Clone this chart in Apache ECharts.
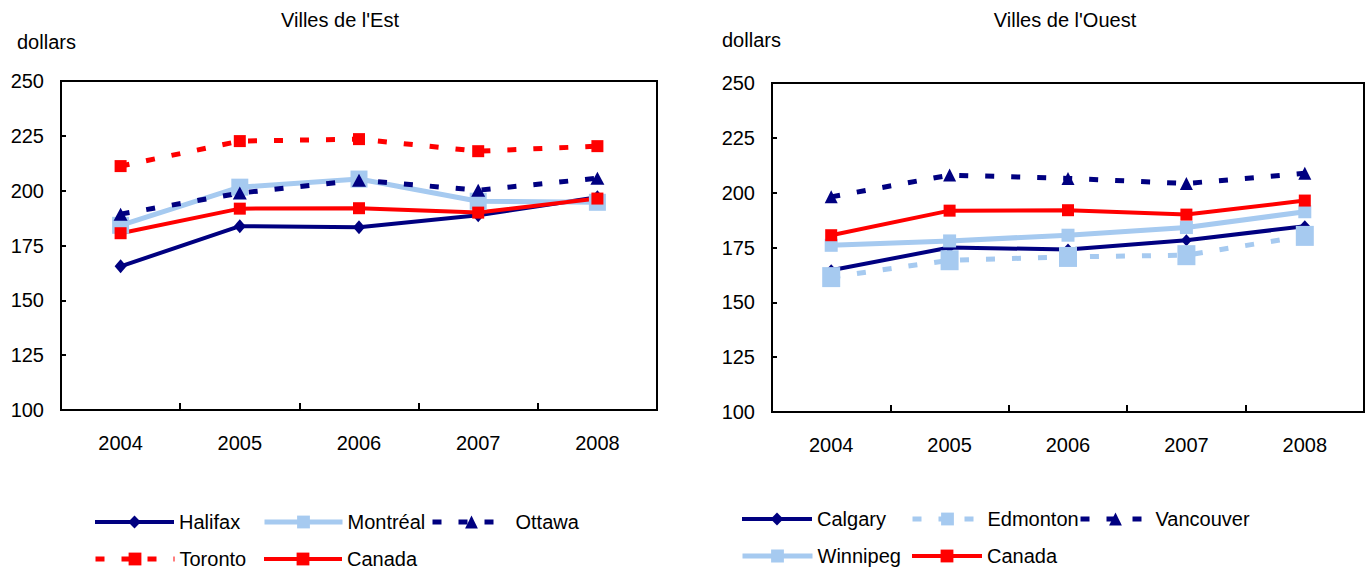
<!DOCTYPE html>
<html>
<head>
<meta charset="utf-8">
<script src="https://cdn.jsdelivr.net/npm/echarts@6/dist/echarts.min.js"></script>
<style>
html,body{margin:0;padding:0;background:#fff;}
#c{width:1370px;height:569px;}
</style>
</head>
<body>
<div id="c"></div>
<script>
// ---- Data ----
const years = ['2004', '2005', '2006', '2007', '2008'];
const yTicks = [100, 125, 150, 175, 200, 225, 250];
// Villes de l'Est
const halifax  = [165.5, 183.8, 183.3, 188.8, 197.0];
const montreal = [184.2, 201.6, 205.3, 195.2, 194.7];
const ottawa   = [189.3, 198.9, 204.8, 200.2, 205.7];
const toronto  = [211.2, 222.6, 223.5, 218.0, 220.3];
const canada   = [180.6, 191.8, 192.0, 190.0, 196.4];
// Villes de l'Ouest
const calgary   = [164.6, 175.0, 174.1, 178.3, 184.7];
const edmonton  = [161.5, 169.2, 170.7, 171.5, 180.3];
const vancouver = [198.1, 208.0, 206.5, 204.2, 208.8];
const winnipeg  = [176.0, 178.0, 180.6, 184.1, 191.3];

const NAVY = '#000080', LIGHT = '#A6CAF0', RED = '#FF0000';
const FONT = 'Liberation Sans, Arial, sans-serif';
const FS = 20;
const DASH = [9, 17];

function xAxis(gi) {
  return {
    type: 'category', gridIndex: gi, data: years, boundaryGap: true,
    axisLine: {show: true, lineStyle: {color: '#000', width: 2}},
    axisTick: {show: true, inside: true, length: 7, alignWithLabel: false, lineStyle: {color: '#000', width: 2}},
    axisLabel: {color: '#000', fontFamily: FONT, fontSize: FS, margin: 23},
    splitLine: {show: false}
  };
}
function yAxis(gi) {
  return {
    type: 'value', gridIndex: gi, min: yTicks[0], max: yTicks[yTicks.length - 1], interval: 25,
    axisLine: {show: true, lineStyle: {color: '#000', width: 2}},
    axisTick: {show: true, inside: true, length: 5, lineStyle: {color: '#000', width: 2}},
    axisLabel: {color: '#000', fontFamily: FONT, fontSize: FS, margin: 17},
    splitLine: {show: false}
  };
}
function line(name, data, gi, color, dashed, symbol, size, width) {
  return {
    name: name, type: 'line', xAxisIndex: gi, yAxisIndex: gi, data: data,
    symbol: symbol, symbolSize: size, showSymbol: true, animation: false,
    lineStyle: {color: color, width: width, type: dashed ? DASH : 'solid'},
    itemStyle: {color: color},
    emphasis: {disabled: true}
  };
}

const series = [
  line('Halifax', halifax, 0, NAVY, false, 'diamond', [12, 14], 4),
  line('Montréal', montreal, 0, LIGHT, false, 'rect', 17, 5),
  line('Ottawa', ottawa, 0, NAVY, true, 'triangle', [14, 13], 5),
  line('Toronto', toronto, 0, RED, true, 'rect', 12, 5),
  line('Canada', canada, 0, RED, false, 'rect', 12, 4),
  line('Calgary', calgary, 1, NAVY, false, 'diamond', [11, 12], 4),
  line('Edmonton', edmonton, 1, LIGHT, true, 'rect', [18, 20], 5),
  line('Vancouver', vancouver, 1, NAVY, true, 'triangle', [13, 13], 5),
  line('Winnipeg', winnipeg, 1, LIGHT, false, 'rect', 13, 5),
  line('Canada ', canada, 1, RED, false, 'rect', 12, 4)
];

const legendItems = [
  ['Halifax', 93, 520, 79], ['Montréal', 262, 520, 78], ['Ottawa', 430, 520, 78],
  ['Toronto', 93, 557, 79], ['Canada', 262, 557, 78],
  ['Calgary', 740, 517, 70], ['Edmonton', 910, 517, 70], ['Vancouver', 1078, 517, 70],
  ['Winnipeg', 740, 554, 70], ['Canada ', 910, 554, 70]
];
const legends = legendItems.map(function (it) {
  const s = series.filter(function (d) { return d.name === it[0]; })[0];
  return {
    data: [it[0]], left: it[1], top: it[2] - 8, itemWidth: it[3], itemHeight: 16,
    padding: 0, itemGap: 0, selectedMode: false,
    lineStyle: {width: s.lineStyle.width},
    textStyle: {color: '#000', fontFamily: FONT, fontSize: FS}
  };
});

const chart = echarts.init(document.getElementById('c'), null, {renderer: 'svg'});
chart.setOption({
  backgroundColor: '#fff',
  animation: false,
  grid: [
    {left: 61, top: 81, width: 596, height: 329, show: true, borderColor: '#000', borderWidth: 2, backgroundColor: 'transparent'},
    {left: 772, top: 83, width: 592, height: 329, show: true, borderColor: '#000', borderWidth: 2, backgroundColor: 'transparent'}
  ],
  xAxis: [xAxis(0), xAxis(1)],
  yAxis: [yAxis(0), yAxis(1)],
  legend: legends,
  series: series,
  graphic: [
    {type: 'text', x: 340, y: 20, style: {text: "Villes de l'Est", fill: '#000', font: FS + 'px ' + FONT, align: 'center', verticalAlign: 'middle'}},
    {type: 'text', x: 1065, y: 20, style: {text: "Villes de l'Ouest", fill: '#000', font: FS + 'px ' + FONT, align: 'center', verticalAlign: 'middle'}},
    {type: 'text', x: 17, y: 42, style: {text: 'dollars', fill: '#000', font: FS + 'px ' + FONT, align: 'left', verticalAlign: 'middle'}},
    {type: 'text', x: 722, y: 40, style: {text: 'dollars', fill: '#000', font: FS + 'px ' + FONT, align: 'left', verticalAlign: 'middle'}}
  ]
});
</script>
</body>
</html>
